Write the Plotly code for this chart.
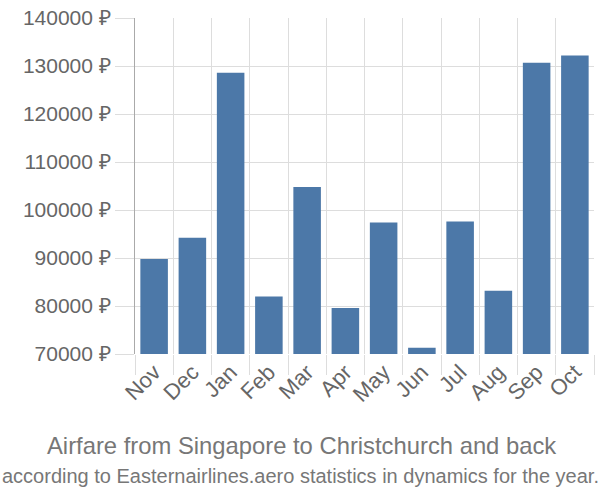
import plotly.graph_objects as go

months = ["Nov", "Dec", "Jan", "Feb", "Mar", "Apr", "May", "Jun", "Jul", "Aug", "Sep", "Oct"]
prices = [89800, 94200, 128600, 82000, 104800, 79600, 97400, 71300, 97600, 83200, 130700, 132200]
y_ticks = [70000, 80000, 90000, 100000, 110000, 120000, 130000, 140000]

x = list(range(len(months)))

L, R, T, B = 135, 6, 14, 146
W, H = 600, 500
plot_h = H - T - B
plot_w = W - L - R

def py(p):
    return (H - B - p) / plot_h

def px(p):
    return (p - L) / plot_w

fig = go.Figure(go.Bar(x=x, y=prices, marker=dict(color="#4c78a8", line=dict(width=0)), width=0.72))

fig.update_layout(
    width=W, height=H,
    margin=dict(l=L, r=R, t=T, b=B),
    plot_bgcolor="white", paper_bgcolor="white",
    font=dict(family="Liberation Sans, Arial, sans-serif", color="#666666"),
    showlegend=False,
    annotations=[
        dict(text="Airfare from Singapore to Christchurch and back", x=px(301), y=py(447),
             xref="paper", yref="paper", yanchor="middle",
             showarrow=False, font=dict(size=23.8, color="#777777")),
        dict(text="according to Easternairlines.aero statistics in dynamics for the year.", x=px(300), y=py(477),
             xref="paper", yref="paper", yanchor="middle",
             showarrow=False, font=dict(size=20, color="#777777")),
    ],
)

fig.update_xaxes(
    range=[-0.5, len(months) - 0.5],
    tickmode="array", tickvals=x, ticktext=months, tickangle=-45,
    tickfont=dict(size=22, color="#666666"),
    showgrid=False, zeroline=False, ticks="",
    minor=dict(tickmode="linear", tick0=-0.5, dtick=1, showgrid=True, gridcolor="#dddddd", gridwidth=1,
               ticks="outside", ticklen=20, tickcolor="#dddddd", tickwidth=1),
    showline=False,
)
fig.update_yaxes(
    range=[70000, 140000], tickmode="array", tickvals=y_ticks,
    ticktext=[f"{v} ₽" for v in y_ticks],
    tickfont=dict(size=21, color="#666666"),
    showgrid=True, gridcolor="#dddddd", gridwidth=1,
    ticks="outside", ticklen=19, tickcolor="#dddddd",
    showline=True, linecolor="#aaaaaa", linewidth=1, zeroline=False,
)

fig.write_html("out.html")
